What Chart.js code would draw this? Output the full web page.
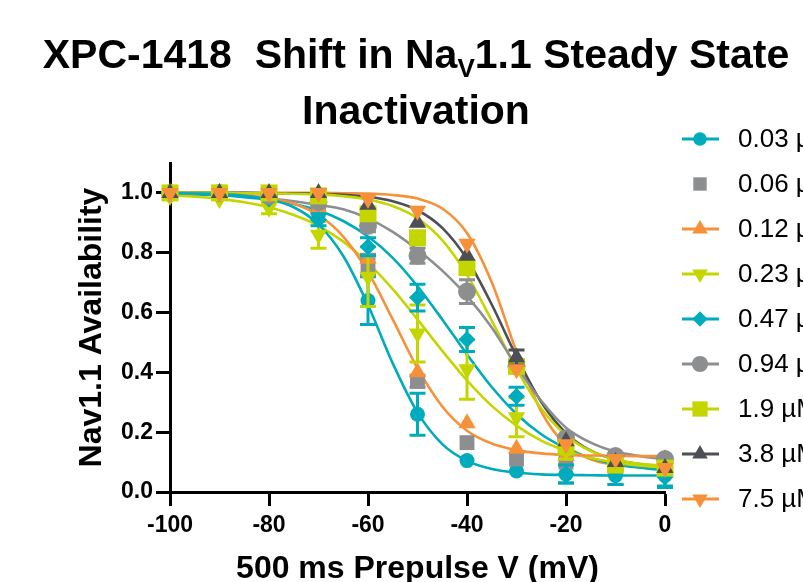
<!DOCTYPE html>
<html>
<head>
<meta charset="utf-8">
<title>XPC-1418 Shift in NaV1.1 Steady State Inactivation</title>
<script src="https://cdn.jsdelivr.net/npm/chart.js"></script>
<style>
  html, body { margin: 0; padding: 0; background: #fff; overflow: hidden; }
  #wrap { width: 803px; height: 582px; }
</style>
</head>
<body>
<div id="wrap"><canvas id="ssiChart" width="803" height="582"></canvas></div>
<script>
// Prepulse voltages (mV) of the measured points
const voltages = [-100, -90, -80, -70, -60, -50, -40, -30, -20, -10, 0];

// Normalised availability (mean) per concentration
const avail003 = [1.0, 1.0, 0.99, 0.93, 0.64, 0.26, 0.105, 0.07, 0.06, 0.055, 0.055];
const avail006 = [1.0, 1.0, 0.99, 0.96, 0.76, 0.37, 0.165, 0.11, 0.10, 0.10, 0.09];
const avail012 = [1.0, 1.0, 0.99, 0.95, 0.78, 0.40, 0.23, 0.145, 0.12, 0.11, 0.11];
const avail023 = [0.99, 0.98, 0.95, 0.86, 0.72, 0.53, 0.41, 0.25, 0.14, 0.10, 0.08];
const avail047 = [1.0, 1.0, 0.98, 0.91, 0.82, 0.65, 0.51, 0.32, 0.06, 0.055, 0.05];
const avail094 = [1.0, 1.0, 0.99, 0.97, 0.89, 0.79, 0.67, 0.42, 0.18, 0.12, 0.11];
const avail19 = [1.0, 1.0, 1.0, 0.99, 0.93, 0.85, 0.75, 0.42, 0.15, 0.09, 0.08];
const avail38 = [1.0, 1.0, 1.0, 1.0, 0.96, 0.90, 0.79, 0.45, 0.17, 0.10, 0.08];
const avail75 = [1.0, 1.0, 1.0, 1.0, 0.98, 0.94, 0.83, 0.41, 0.16, 0.11, 0.08];

// SEM (0 = hidden behind the symbol)
const sem003 = [0, 0, 0, 0, 0.08, 0.07, 0, 0, 0.03, 0.03, 0.035];
const sem006 = [0, 0, 0, 0, 0.035, 0.02, 0, 0, 0, 0, 0];
const sem012 = [0, 0, 0, 0, 0, 0, 0, 0, 0, 0, 0];
const sem023 = [0, 0, 0.02, 0.045, 0.1, 0.095, 0.1, 0.065, 0.03, 0.02, 0.02];
const sem047 = [0, 0, 0, 0.02, 0.03, 0.045, 0.04, 0.03, 0.03, 0.03, 0.035];
const sem094 = [0, 0, 0, 0.015, 0.02, 0.025, 0.04, 0.02, 0, 0, 0];
const sem19 = [0, 0, 0, 0, 0, 0, 0, 0, 0, 0, 0];
const sem38 = [0, 0, 0, 0, 0, 0, 0, 0.025, 0, 0, 0];
const sem75 = [0, 0, 0, 0, 0, 0, 0, 0, 0, 0, 0];

const fitVoltages = [-100, -95, -90, -85, -80, -75, -70, -65, -60, -55, -50, -45, -40, -35, -30, -25, -20, -15, -10, -5, 0];
const fit003 = [0.999, 0.998, 0.996, 0.99, 0.978, 0.952, 0.895, 0.789, 0.625, 0.43, 0.266, 0.16, 0.104, 0.077, 0.065, 0.059, 0.057, 0.056, 0.055, 0.055, 0.055];
const fit012 = [0.999, 0.998, 0.996, 0.992, 0.983, 0.964, 0.926, 0.854, 0.736, 0.577, 0.414, 0.286, 0.205, 0.162, 0.14, 0.129, 0.124, 0.122, 0.121, 0.12, 0.12];
const fit023 = [0.992, 0.987, 0.98, 0.969, 0.952, 0.926, 0.89, 0.837, 0.766, 0.678, 0.577, 0.472, 0.373, 0.288, 0.222, 0.172, 0.138, 0.114, 0.099, 0.088, 0.082];
const fit047 = [0.997, 0.995, 0.992, 0.986, 0.977, 0.963, 0.941, 0.906, 0.854, 0.783, 0.688, 0.577, 0.46, 0.351, 0.261, 0.193, 0.146, 0.114, 0.093, 0.081, 0.073];
const fit094 = [0.998, 0.996, 0.993, 0.988, 0.982, 0.972, 0.96, 0.945, 0.915, 0.87, 0.81, 0.74, 0.655, 0.55, 0.42, 0.305, 0.215, 0.165, 0.135, 0.12, 0.11];
const fit19 = [1.0, 1.0, 1.0, 0.999, 0.999, 0.997, 0.995, 0.989, 0.978, 0.956, 0.915, 0.842, 0.726, 0.573, 0.412, 0.279, 0.19, 0.137, 0.109, 0.094, 0.087];
const fit38 = [1.0, 1.0, 1.0, 1.0, 0.999, 0.999, 0.997, 0.994, 0.987, 0.972, 0.942, 0.883, 0.779, 0.627, 0.453, 0.301, 0.197, 0.138, 0.108, 0.093, 0.086];
const fit75 = [1.0, 1.0, 1.0, 1.0, 1.0, 1.0, 1.0, 0.999, 0.998, 0.993, 0.981, 0.948, 0.866, 0.701, 0.469, 0.269, 0.157, 0.109, 0.09, 0.084, 0.081];

const concLabels = ['0.03 µM', '0.06 µM', '0.12 µM', '0.23 µM', '0.47 µM', '0.94 µM', '1.9 µM', '3.8 µM', '7.5 µM'];
const xTicks = [-100, -80, -60, -40, -20, 0];
const yTicks = [0, 0.2, 0.4, 0.6, 0.8, 1.0];

const TEAL = '#00abbb';
const GREY = '#8c8e90';
const ORANGE = '#f6913a';
const LIME = '#c4d600';
const DARK = '#4d4f54';
const FONT = '"Liberation Sans", Arial, Helvetica, sans-serif';

// symbol style per concentration (Prism look)
const series = [
  { values: avail003, sem: sem003, fit: fit003, color: TEAL, shape: 'circle', rot: 0, r: 7.5 },
  { values: avail006, sem: sem006, fit: null, color: GREY, shape: 'rect', rot: 0, r: 10.5 },
  { values: avail012, sem: sem012, fit: fit012, color: ORANGE, shape: 'triangle', rot: 0, r: 10 },
  { values: avail023, sem: sem023, fit: fit023, color: LIME, shape: 'triangle', rot: 180, r: 10 },
  { values: avail047, sem: sem047, fit: fit047, color: TEAL, shape: 'rectRot', r: 8.5, rot: 0 },
  { values: avail094, sem: sem094, fit: fit094, color: GREY, shape: 'circle', rot: 0, r: 9 },
  { values: avail19, sem: sem19, fit: fit19, color: LIME, shape: 'rect', rot: 0, r: 12 },
  { values: avail38, sem: sem38, fit: fit38, color: DARK, shape: 'triangle', rot: 0, r: 10 },
  { values: avail75, sem: sem75, fit: fit75, color: ORANGE, shape: 'triangle', rot: 180, r: 10 }
];

const datasets = [];
series.forEach((s, i) => {
  if (s.fit) {
    datasets.push({
      type: 'line',
      label: concLabels[i] + ' fit',
      data: fitVoltages.map((v, k) => ({ x: v, y: s.fit[k] })),
      borderColor: s.color,
      borderWidth: 2.6,
      pointRadius: 0,
      cubicInterpolationMode: 'monotone',
      fill: false,
      clip: false,
      order: 100
    });
  }
  datasets.push({
    type: 'scatter',
    label: concLabels[i],
    data: voltages.map((v, k) => ({ x: v, y: s.values[k] })),
    errorBar: s.sem,
    borderColor: s.color,
    backgroundColor: s.color,
    pointStyle: s.shape,
    pointRotation: s.rot,
    pointRadius: s.r,
    pointBorderWidth: 0,
    showLine: false,
    clip: false,
    order: 50 - i
  });
});

// SEM bars, drawn just under each dataset's symbols
const errorBars = {
  id: 'errorBars',
  beforeDatasetDraw(chart, args) {
    const ds = chart.data.datasets[args.index];
    if (!ds.errorBar) return;
    const { ctx, scales: { x, y } } = chart;
    ctx.save();
    ctx.strokeStyle = ds.borderColor;
    ctx.lineWidth = 3;
    ds.data.forEach((p, k) => {
      const e = ds.errorBar[k];
      if (!e) return;
      const px = x.getPixelForValue(p.x);
      const top = y.getPixelForValue(p.y + e);
      const bot = y.getPixelForValue(p.y - e);
      ctx.beginPath();
      ctx.moveTo(px, top); ctx.lineTo(px, bot);
      ctx.moveTo(px - 8, top); ctx.lineTo(px + 8, top);
      ctx.moveTo(px - 8, bot); ctx.lineTo(px + 8, bot);
      ctx.stroke();
    });
    ctx.restore();
  }
};

function drawMarker(ctx, shape, x, y, r, rot, color) {
  ctx.save();
  ctx.fillStyle = color;
  ctx.beginPath();
  if (shape === 'circle') {
    ctx.arc(x, y, r, 0, Math.PI * 2);
  } else if (shape === 'rect') {
    const h = r * Math.SQRT1_2;
    ctx.rect(x - h, y - h, 2 * h, 2 * h);
  } else if (shape === 'rectRot') {
    ctx.moveTo(x, y - r); ctx.lineTo(x + r, y); ctx.lineTo(x, y + r); ctx.lineTo(x - r, y);
  } else {
    let a = rot * Math.PI / 180;
    for (let k = 0; k < 3; k++) {
      const px = x + Math.sin(a) * r, py = y - Math.cos(a) * r;
      if (k === 0) ctx.moveTo(px, py); else ctx.lineTo(px, py);
      a += 2 * Math.PI / 3;
    }
  }
  ctx.closePath();
  ctx.fill();
  ctx.restore();
}

// title with subscript and the Prism-style legend (line + symbol)
const decorations = {
  id: 'decorations',
  afterDraw(chart) {
    const ctx = chart.ctx;
    ctx.save();
    ctx.fillStyle = '#000';
    ctx.textBaseline = 'alphabetic';
    const big = 'bold 41px ' + FONT;
    const sub = 'bold 26px ' + FONT;
    const a = 'XPC-1418  Shift in Na', v = 'V', b = '1.1 Steady State';
    ctx.font = big;
    const wa = ctx.measureText(a).width, wb = ctx.measureText(b).width;
    ctx.font = sub;
    const wv = ctx.measureText(v).width;
    let x0 = 416 - (wa + wv + wb) / 2;
    ctx.font = big; ctx.fillText(a, x0, 68);
    ctx.font = sub; ctx.fillText(v, x0 + wa, 77);
    ctx.font = big; ctx.fillText(b, x0 + wa + wv, 68);
    ctx.textAlign = 'center';
    ctx.fillText('Inactivation', 416, 124);

    ctx.textAlign = 'left';
    ctx.textBaseline = 'middle';
    ctx.font = '26px ' + FONT;
    series.forEach((s, i) => {
      const y = 139 + i * 45;
      if (s.fit) {
        ctx.strokeStyle = s.color;
        ctx.lineWidth = 3;
        ctx.beginPath();
        ctx.moveTo(682, y); ctx.lineTo(719, y);
        ctx.stroke();
      }
      drawMarker(ctx, s.shape, 700, y, s.r * 0.9, s.rot, s.color);
      ctx.fillStyle = '#000';
      ctx.fillText(concLabels[i], 738, y + 1);
    });
    ctx.restore();
  }
};

const axisStyle = {
  grid: { display: true, drawOnChartArea: false, drawTicks: true, tickLength: 14, tickWidth: 3, color: '#000' },
  border: { display: true, color: '#000', width: 3 }
};

new Chart(document.getElementById('ssiChart'), {
  type: 'scatter',
  data: { datasets },
  options: {
    responsive: false,
    animation: false,
    events: [],
    layout: { padding: { left: 0, right: 138, top: 163, bottom: 0 } },
    plugins: { legend: { display: false }, tooltip: { enabled: false }, title: { display: false } },
    scales: {
      x: {
        type: 'linear', min: -100, max: 0,
        ...axisStyle,
        afterBuildTicks: (scale) => { scale.ticks = xTicks.map(v => ({ value: v })); },
        afterFit: (scale) => { scale.height = 90; },
        ticks: { color: '#000', font: { family: FONT, size: 23, weight: 'bold' }, padding: 6, maxRotation: 0, autoSkip: false, callback: (v) => String(v) },
        title: { display: true, text: '500 ms Prepulse V (mV)', color: '#000', font: { family: FONT, size: 32, weight: 'bold', lineHeight: 1 }, padding: { top: 0, bottom: -3 } }
      },
      y: {
        type: 'linear', min: 0, max: 1.1,
        ...axisStyle,
        afterBuildTicks: (scale) => { scale.ticks = yTicks.map(v => ({ value: v })); },
        afterFit: (scale) => { scale.width = 170; },
        ticks: { color: '#000', font: { family: FONT, size: 23, weight: 'bold' }, padding: 3, callback: (v) => Number(v).toFixed(1) },
        title: { display: true, text: 'Nav1.1 Availability', color: '#000', font: { family: FONT, size: 32, weight: 'bold', lineHeight: 1 }, padding: { top: 76, bottom: 0 } }
      }
    }
  },
  plugins: [errorBars, decorations]
});
</script>
</body>
</html>
